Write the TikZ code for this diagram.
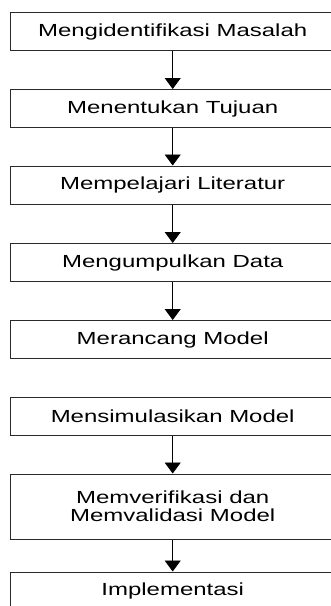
\documentclass[tikz,border=0pt]{standalone}
\usepackage{fontspec}
\setmainfont{Liberation Sans}[FakeStretch=1.37]
\usepackage{tikz}
\usetikzlibrary{arrows.meta,positioning}
\definecolor{boxline}{HTML}{2A2A2A}

\begin{document}
\begin{tikzpicture}[x=1pt,y=1pt,
    stepbox/.style={draw=boxline,line width=1pt,fill=white,
      minimum width=324pt,minimum height=38pt,inner sep=0pt,align=center,
      font=\fontsize{17.5}{18}\selectfont},
    flow/.style={-{Triangle[width=16pt,length=11pt]},line width=0.9pt,black}]
    \useasboundingbox (0,0) rectangle (331,-606);
    \node[stepbox] (identifikasi) at (172.7,-31.6) {Mengidentifikasi Masalah};
    \node[stepbox] (tujuan) at (172.7,-108.5) {Menentukan Tujuan};
    \node[stepbox] (literatur) at (172.7,-185) {Mempelajari Literatur};
    \node[stepbox] (data) at (172.7,-262.5) {Mengumpulkan Data};
    \node[stepbox] (rancang) at (172.7,-339.5) {Merancang Model};
    \node[stepbox] (simulasi) at (172.7,-416.5) {Mensimulasikan Model};
    \node[stepbox,minimum height=65pt] (verval) at (172.7,-506.5)
      {Memverifikasi dan\\Memvalidasi Model};
    \node[stepbox] (implementasi) at (172.7,-591) {Implementasi};
    % alur antar tahap
    \draw[flow] (identifikasi) -- (tujuan);
    \draw[flow] (tujuan) -- (literatur);
    \draw[flow] (literatur) -- (data);
    \draw[flow] (data) -- (rancang);
    \draw[flow] (simulasi) -- (verval);
    \draw[flow] (verval) -- (implementasi);
  \end{tikzpicture}
\end{document}
